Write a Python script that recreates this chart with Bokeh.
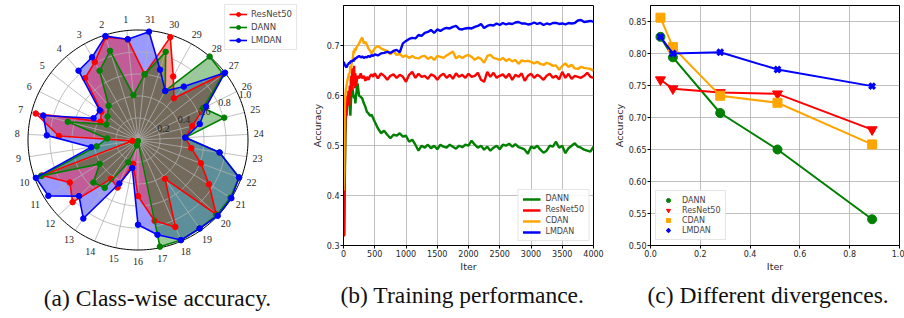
import numpy as np
from bokeh.plotting import figure
from bokeh.layouts import row, column
from bokeh.models import (Range1d, Legend, LegendItem, Label, LabelSet, FixedTicker,
                          NumeralTickFormatter, ColumnDataSource, Title)
from bokeh.embed import file_html
from bokeh.resources import INLINE

# ---------------- data: (a) class-wise accuracy (radar) ----------------
classes = [str(i) for i in range(1, 32)]
resnet_cls = [0.92, 0.98, 0.81, 0.74, 0.42, 0.38, 0.96, 0.72, 0.05, 0.93,
              0.73, 0.82, 0.43, 0.47, 0.22, 0.51, 0.75, 0.86, 0.43, 0.98,
              0.76, 0.61, 0.49, 0.43, 0.51, 0.67, 0.98, 0.50, 0.66, 0.98, 0.60]
dann_cls = [0.41, 0.85, 0.72, 0.41, 0.35, 0.32, 0.66, 0.28, 0.38, 0.94,
            0.41, 0.56, 0.53, 0.22, 0.05, 0.01, 0.99, 0.99, 0.98, 0.99,
            0.99, 0.98, 0.75, 0.43, 0.81, 0.66, 0.98, 1.00, 0.51, 0.84, 0.60]
lmdan_cls = [0.92, 0.99, 0.86, 0.83, 0.44, 0.45, 0.89, 0.83, 0.43, 0.99,
             0.96, 0.74, 0.87, 0.43, 0.26, 0.77, 0.88, 0.99, 0.98, 1.00,
             1.00, 0.98, 0.75, 0.43, 0.58, 0.69, 1.00, 0.64, 0.51, 0.67, 0.99]
r_ticks = [0.2, 0.4, 0.6, 0.8, 1.0]

# ---------------- data: (b) training performance ----------------
iters = [0, 10, 20, 30, 40, 50, 60, 70, 80, 90,
         100, 110, 120, 130, 140, 150, 160, 170, 180, 190,
         200, 225, 250, 275, 300, 325, 350, 375, 400, 425,
         450, 475, 500, 550, 600, 650, 700, 750, 800, 850,
         900, 950, 1000, 1050, 1100, 1150, 1200, 1250, 1300, 1350,
         1400, 1450, 1500, 1550, 1600, 1650, 1700, 1750, 1800, 1850,
         1900, 1950, 2000, 2050, 2100, 2150, 2200, 2250, 2300, 2350,
         2400, 2450, 2500, 2550, 2600, 2650, 2700, 2750, 2800, 2850,
         2900, 2950, 3000, 3050, 3100, 3150, 3200, 3250, 3300, 3350,
         3400, 3450, 3500, 3550, 3600, 3650, 3700, 3750, 3800, 3850,
         3900, 3950, 4000]
dann_acc = [0.32, 0.32, 0.42, 0.52, 0.56, 0.58, 0.59, 0.585, 0.60, 0.59,
            0.575, 0.56, 0.59, 0.615, 0.62, 0.61, 0.60, 0.595, 0.60, 0.585,
            0.60, 0.625, 0.60, 0.598, 0.595, 0.585, 0.578, 0.568, 0.565, 0.56,
            0.562, 0.555, 0.548, 0.535, 0.525, 0.53, 0.522, 0.515, 0.522, 0.52,
            0.525, 0.518, 0.52, 0.508, 0.512, 0.502, 0.49, 0.50, 0.496, 0.502,
            0.495, 0.50, 0.493, 0.502, 0.498, 0.496, 0.502, 0.498, 0.494, 0.50,
            0.497, 0.502, 0.50, 0.51, 0.502, 0.496, 0.50, 0.492, 0.498, 0.49,
            0.496, 0.50, 0.493, 0.502, 0.50, 0.504, 0.498, 0.503, 0.497, 0.495,
            0.492, 0.484, 0.498, 0.495, 0.50, 0.492, 0.486, 0.49, 0.50, 0.498,
            0.508, 0.496, 0.50, 0.485, 0.495, 0.50, 0.505, 0.498, 0.496, 0.492,
            0.49, 0.488, 0.498]
resnet_acc = [0.32, 0.32, 0.45, 0.55, 0.58, 0.56, 0.60, 0.59, 0.61, 0.58,
              0.62, 0.60, 0.64, 0.61, 0.655, 0.62, 0.63, 0.66, 0.615, 0.645,
              0.62, 0.64, 0.635, 0.645, 0.635, 0.64, 0.63, 0.638, 0.632, 0.64,
              0.643, 0.638, 0.645, 0.635, 0.645, 0.64, 0.632, 0.64, 0.643, 0.636,
              0.642, 0.638, 0.628, 0.642, 0.648, 0.636, 0.644, 0.638, 0.64, 0.634,
              0.643, 0.64, 0.632, 0.64, 0.644, 0.636, 0.642, 0.634, 0.645, 0.638,
              0.642, 0.636, 0.644, 0.638, 0.64, 0.646, 0.632, 0.628, 0.648, 0.638,
              0.646, 0.636, 0.64, 0.643, 0.636, 0.644, 0.632, 0.642, 0.638, 0.645,
              0.63, 0.64, 0.644, 0.636, 0.642, 0.638, 0.632, 0.64, 0.644, 0.636,
              0.64, 0.633, 0.648, 0.636, 0.644, 0.634, 0.64, 0.638, 0.636, 0.64,
              0.646, 0.638, 0.636]
cdan_acc = [0.41, 0.45, 0.58, 0.60, 0.615, 0.62, 0.63, 0.635, 0.64, 0.645,
            0.645, 0.66, 0.655, 0.665, 0.67, 0.675, 0.69, 0.685, 0.695, 0.69,
            0.695, 0.70, 0.705, 0.712, 0.717, 0.705, 0.708, 0.702, 0.695, 0.69,
            0.685, 0.69, 0.695, 0.70, 0.695, 0.692, 0.69, 0.683, 0.69, 0.682,
            0.684, 0.678, 0.681, 0.676, 0.68, 0.676, 0.675, 0.679, 0.68, 0.674,
            0.678, 0.672, 0.68, 0.678, 0.676, 0.681, 0.685, 0.689, 0.675, 0.68,
            0.676, 0.68, 0.682, 0.678, 0.672, 0.677, 0.674, 0.666, 0.68, 0.682,
            0.676, 0.674, 0.672, 0.676, 0.67, 0.674, 0.669, 0.672, 0.664, 0.671,
            0.669, 0.67, 0.668, 0.665, 0.668, 0.664, 0.662, 0.666, 0.664, 0.66,
            0.661, 0.652, 0.66, 0.665, 0.658, 0.662, 0.655, 0.654, 0.658, 0.656,
            0.655, 0.654, 0.65]
lmdan_acc = [0.668, 0.666, 0.662, 0.66, 0.658, 0.657, 0.66, 0.664, 0.663, 0.667,
             0.665, 0.668, 0.67, 0.668, 0.67, 0.671, 0.669, 0.674, 0.672, 0.676,
             0.675, 0.678, 0.68, 0.677, 0.679, 0.676, 0.678, 0.677, 0.68, 0.678,
             0.682, 0.68, 0.683, 0.681, 0.685, 0.686, 0.688, 0.686, 0.69, 0.692,
             0.687, 0.705, 0.71, 0.714, 0.716, 0.715, 0.722, 0.72, 0.726, 0.728,
             0.732, 0.726, 0.733, 0.73, 0.734, 0.736, 0.735, 0.738, 0.74, 0.734,
             0.733, 0.735, 0.736, 0.735, 0.738, 0.74, 0.744, 0.736, 0.74, 0.742,
             0.741, 0.745, 0.742, 0.746, 0.743, 0.745, 0.744, 0.747, 0.748, 0.745,
             0.745, 0.743, 0.744, 0.747, 0.744, 0.746, 0.742, 0.745, 0.743, 0.746,
             0.746, 0.744, 0.745, 0.743, 0.746, 0.745, 0.746, 0.751, 0.752, 0.748,
             0.749, 0.75, 0.748]
b_xticks = [0, 500, 1000, 1500, 2000, 2500, 3000, 3500, 4000]
b_yticks = [0.3, 0.4, 0.5, 0.6, 0.7]

# ---------------- data: (c) different divergences ----------------
div_x = [0.04, 0.09, 0.28, 0.51, 0.89]
dann_div = [0.826, 0.794, 0.707, 0.650, 0.541]
resnet_div = [0.759, 0.745, 0.739, 0.737, 0.681]
cdan_div = [0.856, 0.810, 0.734, 0.723, 0.658]
lmdan_div = [0.826, 0.800, 0.802, 0.775, 0.749]
c_xticks = [0.0, 0.2, 0.4, 0.6, 0.8, 1.0]
c_yticks = [0.50, 0.55, 0.60, 0.65, 0.70, 0.75, 0.80, 0.85]

captions = ["(a) Class-wise accuracy.", "(b) Training performance.",
            "(c) Different divergences."]

FONT = "DejaVu Sans"
CAPFONT = "Liberation Serif"
CAPSIZE = "23.5px"
GRID = "#b0b0b0"
TXT = "#262626"
FH = 240          # frame height of (b) and (c)
TOP = 5           # frame top
BOT = 70          # space below frames (axes + captions)

# ======================= (a) radar =======================
W1, H1 = 301, 316
CX, CY, R = 137.5, 139.5, 110.0
p1 = figure(frame_width=W1, frame_height=H1, output_backend="svg",
            toolbar_location=None, x_axis_type=None, y_axis_type=None,
            min_border=0,
            x_range=Range1d(-CX / R, (W1 - CX) / R),
            y_range=Range1d(-(H1 - CY) / R, CY / R))
p1.grid.visible = False
p1.outline_line_color = None

theta = np.pi / 2 + (np.arange(len(classes)) + 0.5) * 2 * np.pi / len(classes)
tt = np.linspace(0, 2 * np.pi, 241)

series = [("ResNet50", resnet_cls, "#ff0000"),
          ("DANN", dann_cls, "#008000"),
          ("LMDAN", lmdan_cls, "#0000ff")]


def polar_xy(vals):
    v = np.asarray(list(vals) + [vals[0]], dtype=float)
    th = np.concatenate([theta, theta[:1]])
    return v * np.cos(th), v * np.sin(th)


for name, vals, col in [series[2], series[0], series[1]]:
    xs, ys = polar_xy(vals)
    p1.patch(xs, ys, fill_color=col, fill_alpha=0.4, line_color=None)

for rt in r_ticks[:-1]:
    p1.line(rt * np.cos(tt), rt * np.sin(tt), line_color=GRID, line_width=0.8)
p1.segment(x0=0, y0=0, x1=np.cos(theta), y1=np.sin(theta),
           line_color=GRID, line_width=0.8)
p1.line(np.cos(tt), np.sin(tt), line_color="black", line_width=1)

items = []
for name, vals, col in series:
    xs, ys = polar_xy(vals)
    lr = p1.line(xs, ys, line_color=col, line_width=1.6)
    sr = p1.scatter(xs[:-1], ys[:-1], marker="circle", size=5.5,
                    fill_color=col, line_color=col)
    items.append(LegendItem(label=name, renderers=[lr, sr]))

lab_src = ColumnDataSource(dict(x=1.1 * np.cos(theta), y=1.1 * np.sin(theta),
                                t=classes))
p1.add_layout(LabelSet(x="x", y="y", text="t", source=lab_src,
                       text_align="center", text_baseline="middle",
                       text_font=FONT, text_font_size="10px", text_color=TXT))
ang = np.deg2rad(22.5)
rt_src = ColumnDataSource(dict(x=np.array(r_ticks) * np.cos(ang),
                               y=np.array(r_ticks) * np.sin(ang),
                               t=["%.1f" % v for v in r_ticks]))
p1.add_layout(LabelSet(x="x", y="y", text="t", source=rt_src,
                       text_align="left", text_baseline="bottom", x_offset=-1,
                       text_font=FONT, text_font_size="10px", text_color=TXT))

leg1 = Legend(items=items, location="top_right", margin=4,
              label_text_font=FONT, label_text_font_size="8.5px",
              label_height=10, glyph_height=10, glyph_width=18, spacing=3,
              padding=4, label_standoff=4, border_line_color="#cccccc",
              background_fill_alpha=0.85)
p1.add_layout(leg1)
p1.add_layout(Label(x=157, y=H1 - 297, x_units="screen", y_units="screen",
                    text=captions[0], text_align="center",
                    text_baseline="middle", text_font=CAPFONT,
                    text_font_size=CAPSIZE, text_color="#111111"))


def style(p):
    p.outline_line_color = "black"
    p.outline_line_width = 1
    for ax in p.axis:
        ax.major_tick_out = 3
        ax.major_tick_in = 0
        ax.minor_tick_out = 0
        ax.minor_tick_in = 0
        ax.axis_line_color = "black"
        ax.major_tick_line_color = "black"
        ax.major_label_text_font = FONT
        ax.major_label_text_font_size = "8px"
        ax.major_label_text_color = TXT
        ax.major_label_standoff = 1
        ax.axis_label_text_font = FONT
        ax.axis_label_text_font_size = "9.5px"
        ax.axis_label_text_font_style = "normal"
        ax.axis_label_text_color = TXT
        ax.axis_label_standoff = 1
    p.grid.grid_line_color = GRID
    p.grid.grid_line_width = 0.8


def caption_below(p, txt, offset):
    p.add_layout(Title(text=txt, align="left", offset=offset, standoff=10,
                       text_font=CAPFONT, text_font_size=CAPSIZE,
                       text_font_style="normal", text_color="#111111"),
                 "below")


# ======================= (b) training =======================
p2 = figure(frame_width=250, frame_height=FH, output_backend="svg",
            toolbar_location=None,
            x_range=Range1d(0, 4000), y_range=Range1d(0.3, 0.781),
            min_border_left=42, min_border_right=15, min_border_top=TOP,
            min_border_bottom=BOT)
style(p2)
p2.xaxis.axis_label = "Iter"
p2.yaxis.axis_label = "Accuracy"
p2.xaxis.ticker = FixedTicker(ticks=b_xticks)
p2.yaxis.ticker = FixedTicker(ticks=b_yticks)
p2.yaxis.formatter = NumeralTickFormatter(format="0.0")
p2.xaxis.formatter = NumeralTickFormatter(format="0")
litems = []
for name, vals, col in [("DANN", dann_acc, "#008000"),
                        ("ResNet50", resnet_acc, "#ff0000"),
                        ("CDAN", cdan_acc, "#ffa500"),
                        ("LMDAN", lmdan_acc, "#0000ff")]:
    r = p2.line(iters, vals, line_color=col, line_width=2.4)
    litems.append(LegendItem(label=name, renderers=[r]))
leg2 = Legend(items=litems, location="bottom_right", margin=4,
              label_text_font=FONT, label_text_font_size="8px",
              label_height=8, glyph_height=8, glyph_width=18, spacing=2,
              padding=4, label_standoff=5, border_line_color="#cccccc",
              background_fill_alpha=0.85)
p2.add_layout(leg2)
caption_below(p2, captions[1], -3)

# ======================= (c) divergences =======================
p3 = figure(frame_width=249, frame_height=FH, output_backend="svg",
            toolbar_location=None,
            x_range=Range1d(0, 1.0), y_range=Range1d(0.5, 0.875),
            min_border_left=42, min_border_right=5, min_border_top=TOP,
            min_border_bottom=BOT)
style(p3)
p3.xaxis.axis_label = "Iter"
p3.yaxis.axis_label = "Accuracy"
p3.xaxis.ticker = FixedTicker(ticks=c_xticks)
p3.yaxis.ticker = FixedTicker(ticks=c_yticks)
p3.xaxis.formatter = NumeralTickFormatter(format="0.0")
p3.yaxis.formatter = NumeralTickFormatter(format="0.00")
citems = []
for name, vals, col, mk, sz in [("DANN", dann_div, "#008000", "circle", 9),
                                ("ResNet50", resnet_div, "#ff0000", "inverted_triangle", 10),
                                ("CDAN", cdan_div, "#ffa500", "square", 9),
                                ("LMDAN", lmdan_div, "#0000ff", "x", 8)]:
    p3.line(div_x, vals, line_color=col, line_width=2)
    if mk == "x":
        s = p3.scatter(div_x, vals, marker=mk, size=sz, line_color=col,
                       line_width=3.2)
    else:
        s = p3.scatter(div_x, vals, marker=mk, size=sz, fill_color=col,
                       line_color=col)
    citems.append(LegendItem(label=name, renderers=[s]))
leg3 = Legend(items=citems, location="bottom_left", margin=5,
              label_text_font=FONT, label_text_font_size="8px",
              label_height=10, glyph_height=10, glyph_width=16, spacing=0,
              padding=4, label_standoff=6, border_line_color="#cccccc",
              background_fill_alpha=0.85)
p3.add_layout(leg3)
caption_below(p3, captions[2], -3)

layout = row(column(p1), column(p2), column(p3))
open("out.html", "w").write(file_html(layout, INLINE))
